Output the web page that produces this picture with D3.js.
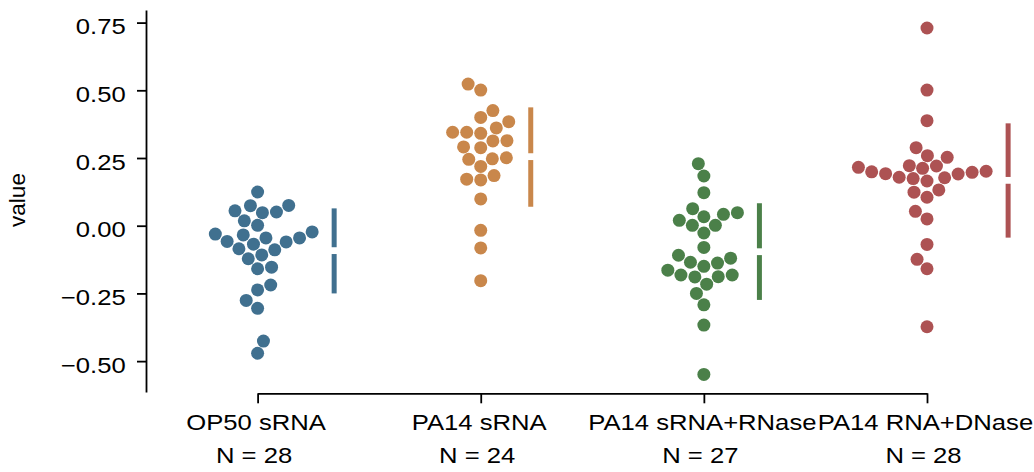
<!DOCTYPE html>
<html>
<head>
<meta charset="utf-8">
<script src="https://cdn.jsdelivr.net/npm/d3@7"></script>
<style>
  html, body { margin: 0; padding: 0; background: #fff; }
  svg { display: block; }
  text { font-family: "Liberation Sans", Arial, Helvetica, sans-serif; fill: #000; }
</style>
</head>
<body>
<svg id="chart" width="1034" height="472"></svg>
<script>
// ---------------- data ----------------
const categories = ["OP50 sRNA", "PA14 sRNA", "PA14 sRNA+RNase", "PA14 RNA+DNase"];
const countLabels = ["N = 28", "N = 24", "N = 27", "N = 28"];

const op50 = [0.1245, 0.075, 0.074, 0.0506, 0.048, 0.055, 0.018, 0.0015, -0.031, -0.023,
  -0.034, -0.045, -0.058, -0.045, -0.068, -0.060, -0.085, -0.089, -0.108, -0.122,
  -0.159, -0.153, -0.219, -0.237, -0.276, -0.305, -0.426, -0.471];
const pa14 = [0.523, 0.501, 0.425, 0.400, 0.384, 0.345, 0.345, 0.341, 0.361, 0.313,
  0.314, 0.291, 0.288, 0.245, 0.247, 0.251, 0.219, 0.172, 0.169, 0.185,
  0.099, -0.017, -0.082, -0.203];
const pa14RNase = [0.229, 0.1835, 0.122, 0.063, 0.042, 0.048, 0.020, 0.033, 0.0015, 0.0015,
  -0.027, -0.080, -0.109, -0.120, -0.150, -0.138, -0.135, -0.164, -0.182, -0.189,
  -0.188, -0.182, -0.216, -0.250, -0.292, -0.367, -0.549];
const pa14DNase = [0.730, 0.501, 0.388, 0.288, 0.2585, 0.2525, 0.2216, 0.2205, 0.212, 0.2157,
  0.201, 0.199, 0.192, 0.197, 0.191, 0.179, 0.174, 0.177, 0.165, 0.124,
  0.132, 0.105, 0.053, 0.025, -0.069, -0.124, -0.159, -0.373];
const groups = [op50, pa14, pa14RNase, pa14DNase];

// mean ± sd gapped lines
const barHigh = [0.064, 0.437, 0.083, 0.378];
const barMid = [-0.092, 0.255, -0.096, 0.1675];
const barLow = [-0.250, 0.070, -0.274, -0.044];

const yTicks = [-0.5, -0.25, 0, 0.25, 0.5, 0.75];
const colors = ["#40708f", "#c9874b", "#4b8049", "#ad5253"];

// ---------------- layout ----------------
const svg = d3.select("#chart");
const y = d3.scaleLinear().domain([-0.614, 0.7965]).range([392, 10]);
const x = d3.scalePoint().domain(categories).range([257.6, 927]);
const R = 6.5, RC = 6.7, STRETCH = 1.14;

function swarm(values, cx, r) {
  const pts = values.map(v => ({ v, u: -y(v) }));
  pts.sort((a, b) => a.u - b.u);
  const placed = [];
  pts.forEach((p, i) => {
    if (i === 0) { p.x = cx; placed.push(p); return; }
    const nb = [];
    for (let j = placed.length - 1; j >= 0; j--) {
      if (p.u - placed[j].u < 2 * r) nb.push(placed[j]); else break;
    }
    nb.reverse();
    const cands = [cx];
    let left = true;
    nb.forEach(q => {
      const dy = p.u - q.u;
      const dx = Math.sqrt(Math.max(4 * r * r - dy * dy, 0)) * 1.05;
      const cl = q.x - dx, cr = q.x + dx;
      if (left) cands.push(cl, cr); else cands.push(cr, cl);
      left = !left;
    });
    const order = cands.map((c, k) => ({ c, k }))
      .sort((a, b) => (Math.abs(a.c - cx) - Math.abs(b.c - cx)) || (a.k - b.k));
    let chosen = cx;
    for (const o of order) {
      if (nb.every(q => (q.x - o.c) ** 2 + (q.u - p.u) ** 2 >= 4 * r * r - 1e-6)) { chosen = o.c; break; }
    }
    p.x = chosen;
    placed.push(p);
  });
  return placed;
}

// ---------------- axes ----------------
const yAxis = svg.append("g").attr("transform", "translate(146,0)")
  .call(d3.axisLeft(y).tickValues(yTicks).tickSize(9).tickSizeOuter(0).tickFormat(d3.format(".2f")));
yAxis.selectAll("path, line").attr("stroke", "#000").attr("stroke-width", 1.8);
yAxis.selectAll("text")
  .attr("x", 0).attr("y", 0).attr("dy", null)
  .attr("text-anchor", "end")
  .attr("font-size", 22.5)
  .attr("transform", `translate(-20.3,11) scale(${STRETCH},1)`);

const xAxis = svg.append("g").attr("transform", "translate(0,393.3)")
  .call(d3.axisBottom(x).tickSize(10).tickSizeOuter(0));
xAxis.selectAll("path, line").attr("stroke", "#000").attr("stroke-width", 1.8);
xAxis.selectAll("text").remove();
xAxis.selectAll(".tick").each(function (d, i) {
  const t = d3.select(this);
  t.append("text").attr("text-anchor", "middle").attr("font-size", 22.5)
    .attr("transform", `translate(-2,36.7) scale(${STRETCH},1)`).text(d);
  t.append("text").attr("text-anchor", "middle").attr("font-size", 22.5)
    .attr("transform", `translate(-4,70) scale(${STRETCH},1)`).text(countLabels[i]);
});
svg.selectAll(".domain").attr("stroke", "#000");
yAxis.attr("font-family", null);
xAxis.attr("font-family", null);

svg.append("text").attr("transform", "translate(25,200) rotate(-90)")
  .attr("text-anchor", "middle").attr("font-size", 22.5).text("value");

// ---------------- swarms + gapped lines ----------------
const gapHalf = 3.4;
groups.forEach((vals, gi) => {
  const cx = x(categories[gi]);
  const pts = swarm(vals, cx, RC);
  svg.append("g").selectAll("circle").data(pts).join("circle")
    .attr("cx", d => d.x).attr("cy", d => -d.u).attr("r", R)
    .attr("fill", colors[gi]);
  const maxX = d3.max(pts, d => d.x);
  const bx = maxX + R + 15.5;
  const ym = y(barMid[gi]);
  svg.append("line").attr("x1", bx).attr("x2", bx)
    .attr("y1", y(barHigh[gi])).attr("y2", ym - gapHalf)
    .attr("stroke", colors[gi]).attr("stroke-width", 5);
  svg.append("line").attr("x1", bx).attr("x2", bx)
    .attr("y1", ym + gapHalf).attr("y2", y(barLow[gi]))
    .attr("stroke", colors[gi]).attr("stroke-width", 5);
});
</script>
</body>
</html>
